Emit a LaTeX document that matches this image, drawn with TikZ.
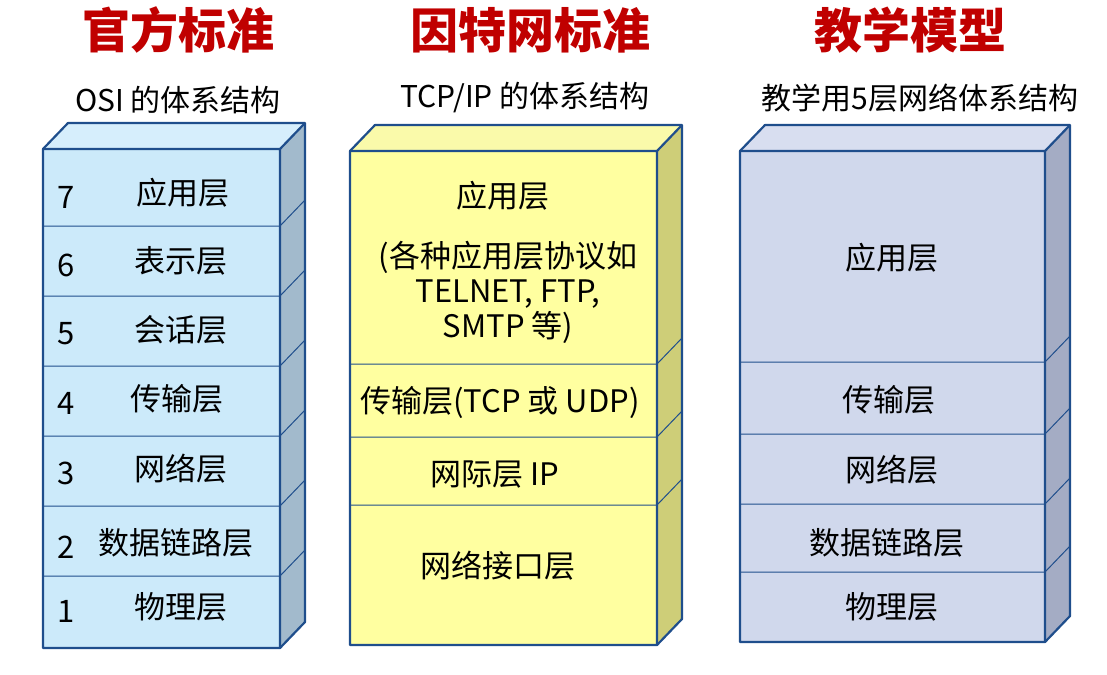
\documentclass[tikz,border=0pt]{standalone}
\usepackage{fontspec}
\setmainfont{Noto Sans CJK SC}
\begin{document}
\begin{tikzpicture}[x=1pt,y=-1pt,
  edge/.style={draw=myblue,line width=2.2pt,line join=round},
  sep/.style={draw=myblue,line width=1pt},
  lab/.style={font=\fontsize{31}{35}\selectfont,align=center,inner sep=0},
  ttl/.style={font=\fontsize{48}{54}\selectfont\bfseries,text=myred,inner sep=0},
  sub/.style={font=\fontsize{30}{34}\selectfont,inner sep=0}]
\definecolor{myblue}{HTML}{1F4E8C}
\definecolor{myred}{HTML}{C00000}
\useasboundingbox (0,0) rectangle (1107,674);
\newcommand\stackedge[4]{%
  \draw[edge] (#1,#4) -- (#1,#3) -- (#1+25,#3-26) -- (#2+25,#3-26) -- (#2+25,#4-26) -- (#2,#4) -- cycle;
  \draw[edge] (#1,#3) -- (#2,#3) -- (#2+25,#3-26) (#2,#3) -- (#2,#4);}
\newcommand\stacksep[3]{\draw[sep] (#1,#3) -- (#2,#3) -- (#2+25,#3-26);}
% box 1
\fill[fill={rgb,255:red,204;green,234;blue,250}] (43,149) rectangle (280,648);
\fill[fill={rgb,255:red,214;green,238;blue,252}] (43,149) -- (68,123) -- (305,123) -- (280,149) -- cycle;
\fill[fill={rgb,255:red,162;green,186;blue,204}] (280,149) -- (305,123) -- (305,622) -- (280,648) -- cycle;
\foreach \y in {226,296,366,436,506,576} {\stacksep{43}{280}{\y}}
\stackedge{43}{280}{149}{648}
% box 2
\fill[fill={rgb,255:red,255;green,255;blue,160}] (350,151) rectangle (657,645);
\fill[fill={rgb,255:red,250;green,250;blue,170}] (350,151) -- (375,125) -- (682,125) -- (657,151) -- cycle;
\fill[fill={rgb,255:red,206;green,206;blue,120}] (657,151) -- (682,125) -- (682,619) -- (657,645) -- cycle;
\foreach \y in {364,437,505} {\stacksep{350}{657}{\y}}
\stackedge{350}{657}{151}{645}
% box 3
\fill[fill={rgb,255:red,208;green,216;blue,236}] (740,151) rectangle (1045,642);
\fill[fill={rgb,255:red,216;green,222;blue,240}] (740,151) -- (765,125) -- (1070,125) -- (1045,151) -- cycle;
\fill[fill={rgb,255:red,164;green,172;blue,196}] (1045,151) -- (1070,125) -- (1070,616) -- (1045,642) -- cycle;
\foreach \y in {362,434,504,572} {\stacksep{740}{1045}{\y}}
\stackedge{740}{1045}{151}{642}
% titles
\node[ttl] (t1) at (178,30) {官方标准};
\node[ttl] (t2) at (530,30) {因特网标准};
\node[ttl] (t3) at (910,30) {教学模型};
\node[sub] (s1) at (178,100) {OSI 的体系结构};
\node[sub] (s2) at (525,98) {TCP/IP 的体系结构};
\node[sub] (s3) at (920,98) {教学用5层网络体系结构};
% box 1 labels
\foreach \n/\t/\y/\xx in {7/应用层/193/183,6/表示层/261/181,5/会话层/330/181,4/传输层/399/177,3/网络层/469/181,2/数据链路层/543/176,1/物理层/607/181}{
  \node[lab] (n\n) at (66,\y+4) {\n};
  \node[lab] (l\n) at (\xx,\y) {\t};}
% box 2 labels
\node[lab] (a1) at (503,196) {应用层};
\node[lab] (a2) at (508,292) {(各种应用层协议如\\TELNET, FTP,\\SMTP 等)};
\node[lab] (a3) at (500,402) {传输层(TCP 或 UDP)};
\node[lab] (a4) at (495,474) {网际层 IP};
\node[lab] (a5) at (498,566) {网络接口层};
% box 3 labels
\node[lab] (b1) at (892,258) {应用层};
\node[lab] (b2) at (889,400) {传输层};
\node[lab] (b3) at (892,470) {网络层};
\node[lab] (b4) at (887,543) {数据链路层};
\node[lab] (b5) at (892,607) {物理层};
\end{tikzpicture}
\end{document}
